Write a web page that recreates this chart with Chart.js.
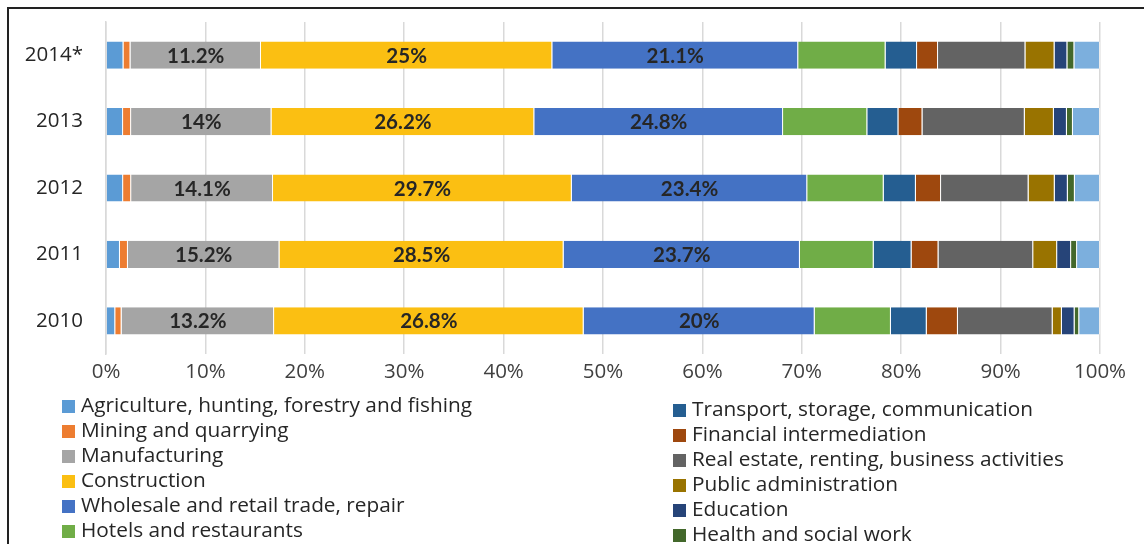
<!DOCTYPE html>
<html>
<head>
<meta charset="utf-8">
<script src="https://cdn.jsdelivr.net/npm/chart.js@4.4.1/dist/chart.umd.min.js"></script>
<style>
  html, body { margin: 0; padding: 0; background: #fff; overflow: hidden; }
  body { width: 1144px; height: 544px; position: relative; font-family: "Open Sans", sans-serif; }
  #frame { position: absolute; left: 7px; top: 7px; width: 1200px; height: 600px; border-left: 2px solid #222; border-top: 2px solid #222; }
  #wrap { position: absolute; left: 0; top: 0; width: 1144px; height: 395px; }
  .legcol { position: absolute; font-size: 20.8px; color: #262626; }
  .legcol div { height: 25px; line-height: 25px; white-space: nowrap; }
  .legcol span { display: inline-block; width: 13px; height: 13px; margin-right: 6px; vertical-align: -1px; }
</style>
</head>
<body>
<div id="frame"></div>
<div id="wrap"><canvas id="chart"></canvas></div>
<div class="legcol" id="legLeft" style="left:62px; top:392px;"></div>
<div class="legcol" id="legRight" style="left:673px; top:396px;"></div>
<script>
//CATEGORIES
const years=['2014*','2013','2012','2011','2010'];
const sectors=['Agriculture, hunting, forestry and fishing','Mining and quarrying','Manufacturing','Construction',
  'Wholesale and retail trade, repair','Hotels and restaurants','Transport, storage, communication',
  'Financial intermediation','Real estate, renting, business activities','Public administration',
  'Education','Health and social work','Other community, social and personal services'];
const colors=['#5B9BD5','#ED7D31','#A5A5A5','#FBBF12','#4472C4','#70AD47','#255E91',
  '#9E480E','#636363','#997300','#264478','#43682B','#7CAFDD'];

//VALUES PER SECTOR (order of years above)
const agriculture=[1.5,1.7,1.7,1.4,0.8];
const mining=[0.6,0.8,0.8,0.8,0.55];
const manufacturing=[11.2,14,14.1,15.2,13.2];
const construction=[25,26.2,29.7,28.5,26.8];
const wholesale=[21.1,24.8,23.4,23.7,20];
const hotels=[7.5,8.4,7.6,7.4,6.6];
const transport=[2.7,3.1,3.2,3.8,3.1];
const financial=[1.8,2.4,2.5,2.7,2.7];
const realEstate=[7.5,10.2,8.7,9.5,8.2];
const publicAdmin=[2.5,2.9,2.6,2.4,0.8];
const education=[1.1,1.3,1.3,1.4,1.1];
const health=[0.6,0.6,0.7,0.6,0.4];
const other=[2.2,2.7,2.5,2.3,1.8];

const series=[agriculture,mining,manufacturing,construction,wholesale,hotels,transport,
  financial,realEstate,publicAdmin,education,health,other];
//series that get a value label inside the bar
const labelled=[2,3,4];

//100% STACK
const totals=years.map((y,i)=>series.reduce((s,arr)=>s+arr[i],0));
const datasets=series.map((arr,k)=>({
  label:sectors[k],
  data:arr.map((v,i)=>v/totals[i]*100),
  backgroundColor:colors[k],
  borderColor:'rgba(255,255,255,0.5)',
  borderWidth:{left:0,right:1,top:0,bottom:0},
  borderSkipped:false,
  barPercentage:0.41,
  categoryPercentage:1
}));

//LABELS IN THE BARS
const barLabels={
  id:'barLabels',
  afterDatasetsDraw(chart){
    const c=chart.ctx;
    c.save();
    c.font='bold 20.5px Lato, "Open Sans", sans-serif';
    c.fillStyle='#262626';
    c.textAlign='center';
    c.textBaseline='middle';
    labelled.forEach(k=>{
      chart.getDatasetMeta(k).data.forEach((bar,i)=>{
        c.fillText(series[k][i]+'%',(bar.x+bar.base)/2,bar.y+1);
      });
    });
    c.restore();
  }
};

new Chart(document.getElementById('chart'),{
  type:'bar',
  data:{labels:years,datasets:datasets},
  plugins:[barLabels],
  options:{
    indexAxis:'y',
    responsive:true,
    maintainAspectRatio:false,
    animation:false,
    layout:{padding:{top:22,right:44,left:0,bottom:0}},
    plugins:{legend:{display:false},tooltip:{enabled:false}},
    scales:{
      x:{
        stacked:true,min:0,max:100,
        ticks:{stepSize:10,callback:v=>v+'%',color:'#404040',font:{size:20.5,family:'"Open Sans", sans-serif'},padding:6},
        grid:{color:'#d9d9d9',lineWidth:1.5,drawTicks:false},
        border:{display:false},
        afterFit(s){s.height=41;}
      },
      y:{
        stacked:true,
        ticks:{color:'#262626',font:{size:20.5,family:'"Open Sans", sans-serif'},padding:23},
        grid:{display:false,drawTicks:false},
        border:{display:true,color:'#d9d9d9',width:1.5},
        afterFit(s){s.width=106;s.paddingTop=0;s.paddingBottom=0;}
      }
    }
  }
});

//HTML LEGEND IN TWO COLUMNS
sectors.forEach((name,k)=>{
  const row=document.createElement('div');
  row.innerHTML='<span style="background:'+colors[k]+'"></span>'+name;
  document.getElementById(k<6?'legLeft':'legRight').appendChild(row);
});
</script>
</body>
</html>
